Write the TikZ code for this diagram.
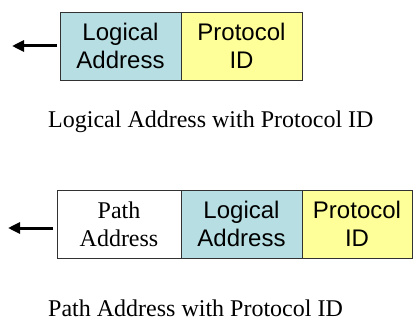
\documentclass[tikz,border=0pt]{standalone}
\usepackage{fontspec}
\setmainfont{Liberation Serif}
\newfontfamily\arialfont{Liberation Sans}
\usetikzlibrary{arrows.meta}
\definecolor{cellblue}{RGB}{183,223,227}
\definecolor{cellyellow}{RGB}{255,255,153}
\definecolor{cellborder}{RGB}{50,50,50}
\tikzset{
  cell/.style={draw=cellborder, line width=0.9pt, minimum height=68pt, inner sep=0pt, align=center, font=\fontsize{24}{27.6}\selectfont},
  sanscell/.style={cell, font=\arialfont\fontsize{24}{27.6}\selectfont},
  bluecell/.style={sanscell, fill=cellblue},
  yellowcell/.style={sanscell, fill=cellyellow},
  whitecell/.style={cell, fill=white},
  leftarrow/.style={line width=3pt, -{Triangle[length=12pt,width=11pt]}},
  caption/.style={anchor=base west, inner sep=0pt, font=\fontsize{24}{27.6}\selectfont}
}
\begin{document}
\begin{tikzpicture}[x=1pt,y=-1pt]
\useasboundingbox (0,0) rectangle (414,320);
% top row
\node[bluecell, minimum width=121pt] (tl) at (120.5,46) {Logical\\Address};
\node[yellowcell, minimum width=121pt] (tp) at (241.5,46) {Protocol\\ID};
\coordinate (t1s) at (57,46);
\coordinate (t1e) at (12,46);
\draw[leftarrow] (t1s) -- (t1e);
\node[caption] (c1) at (48,128) {Logical Address with Protocol ID};
% bottom row
\node[whitecell, minimum width=124pt] (bp) at (119,224) {Path\\Address};
\node[bluecell, minimum width=121pt] (bl) at (241.5,224) {Logical\\Address};
\node[yellowcell, minimum width=110pt] (bi) at (357,224) {Protocol\\ID};
\coordinate (b1s) at (53,228);
\coordinate (b1e) at (8,228);
\draw[leftarrow] (b1s) -- (b1e);
\node[caption] (c2) at (48,316) {Path Address with Protocol ID};
\end{tikzpicture}
\end{document}
